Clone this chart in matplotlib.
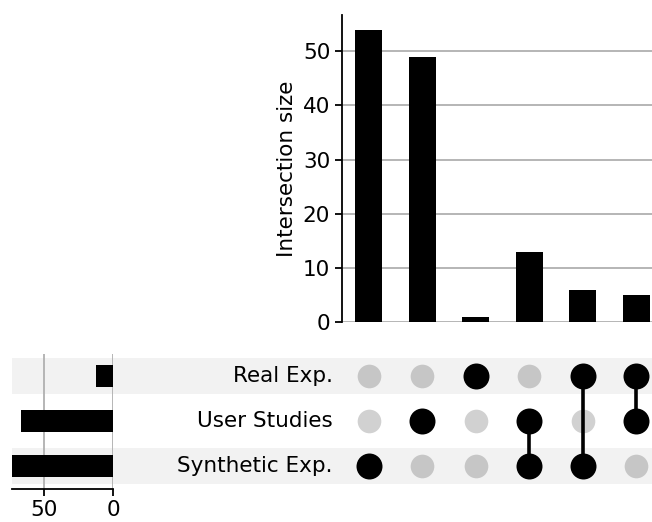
import numpy as np
import matplotlib
matplotlib.use("Agg")
import matplotlib.pyplot as plt

# sets listed from bottom row to top row
set_names = ["Synthetic Exp.", "User Studies", "Real Exp."]
set_sizes = [73, 67, 12]

# intersections: membership per set (bottom..top) and size
memberships = [
    [1, 0, 0],
    [0, 1, 0],
    [0, 0, 1],
    [1, 1, 0],
    [1, 0, 1],
    [0, 1, 1],
]
inter_sizes = [54, 49, 1, 13, 6, 5]

W, H = 652, 522
FS = 15.5
LW = 1.3
fig = plt.figure(figsize=(W / 100, H / 100), dpi=100)


def box(x0, y0, x1, y1):
    # pixel box (top-left origin) -> figure rect
    return [x0 / W, 1 - y1 / H, (x1 - x0) / W, (y1 - y0) / H]


n = len(inter_sizes)
xs = np.arange(n)
ys = np.arange(len(set_names))

# shading behind the rows
ax_sh = fig.add_axes(box(12, 353.5, 663, 488.5), zorder=0)
ax_sh.set_xlim(0, 1)
ax_sh.set_ylim(-0.5, 2.5)
ax_sh.axis("off")
for i in ys:
    if i % 2 == 0:
        ax_sh.axhspan(i - 0.4, i + 0.4, color="black", alpha=0.05, lw=0)

# intersection size bars
ax_b = fig.add_axes(box(342, 15, 663, 322), zorder=2)
ax_b.bar(xs, inter_sizes, width=0.5, color="black", zorder=3)
ax_b.set_xlim(-0.5, n - 0.5)
ax_b.set_ylim(0, max(inter_sizes) * 1.05)
ax_b.set_xticks([])
ax_b.set_yticks([0, 10, 20, 30, 40, 50])
ax_b.yaxis.grid(True, color="#b0b0b0", lw=LW)
ax_b.set_axisbelow(True)
for s in ["top", "right", "bottom"]:
    ax_b.spines[s].set_visible(False)
ax_b.spines["left"].set_linewidth(LW)
ax_b.tick_params(axis="y", labelsize=FS, length=5, width=LW)
ax_b.set_ylabel("Intersection size", fontsize=FS)

# matrix of dots
ax_m = fig.add_axes(box(342, 353.5, 663, 488.5), zorder=2)
ax_m.patch.set_alpha(0)
ax_m.set_xlim(-0.5, n - 0.5)
ax_m.set_ylim(-0.5, 2.5)
ax_m.axis("off")
for j, mem in enumerate(memberships):
    for i, m in enumerate(mem):
        if m:
            ax_m.scatter(j, i, s=350, color="black", zorder=3, lw=0)
        else:
            ax_m.scatter(j, i, s=290, color="black", alpha=0.18, zorder=2, lw=0)
    act = [i for i, m in enumerate(mem) if m]
    if len(act) > 1:
        ax_m.plot([j, j], [min(act), max(act)], color="black", lw=2.6, zorder=2)
for i, name in enumerate(set_names):
    ax_m.text(-0.67, i, name, ha="right", va="center", fontsize=FS, clip_on=False)

# set size bars
ax_s = fig.add_axes(box(12, 353.5, 113, 488.5), zorder=2)
ax_s.patch.set_alpha(0)
ax_s.barh(ys, set_sizes, height=0.5, color="black", zorder=3)
ax_s.set_xlim(73.3, 0)
ax_s.set_ylim(-0.5, 2.5)
ax_s.set_yticks([])
ax_s.set_xticks([50, 0])
ax_s.xaxis.grid(True, color="#b0b0b0", lw=LW)
ax_s.set_axisbelow(True)
for s in ["top", "right", "left"]:
    ax_s.spines[s].set_visible(False)
ax_s.spines["bottom"].set_linewidth(LW)
ax_s.tick_params(axis="x", labelsize=FS, length=5, width=LW)

fig.savefig("out.png", dpi=100)
